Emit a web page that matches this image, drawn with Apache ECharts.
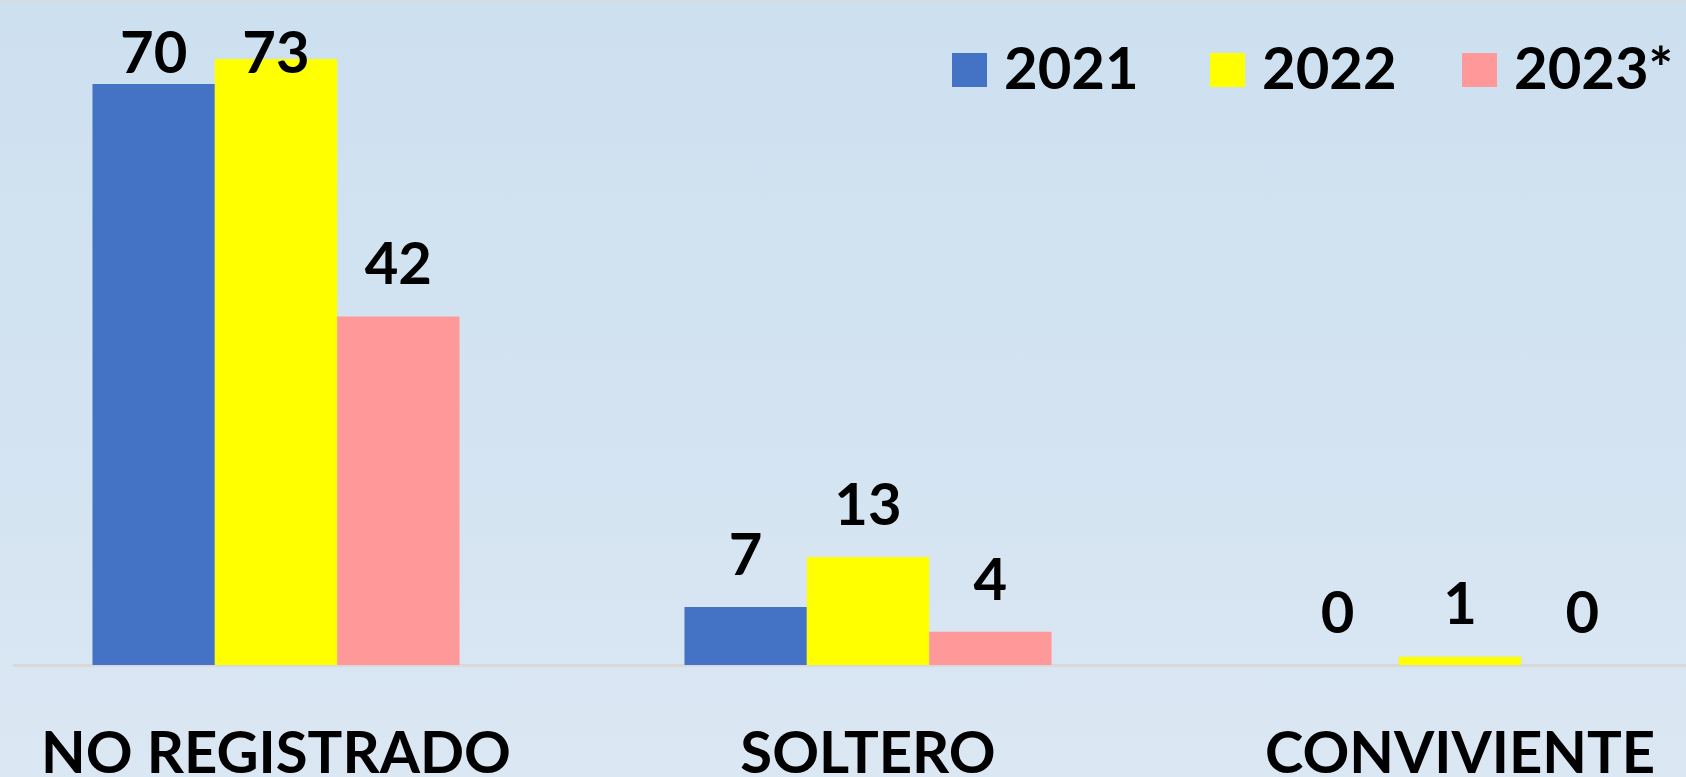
<!DOCTYPE html>
<html>
<head>
<meta charset="utf-8">
<script src="https://cdn.jsdelivr.net/npm/echarts@6/dist/echarts.min.js"></script>
<style>
  html, body { margin: 0; padding: 0; }
  #chart {
    width: 1686px; height: 777px;
    background: linear-gradient(to bottom, #d3dde6 0px, #d3dde6 3px, #cde0ef 4px, #d3e3f1 380px, #dbe7f3 777px);
  }
</style>
</head>
<body>
<div id="chart"></div>
<script>
const categories = ['NO REGISTRADO', 'SOLTERO', 'CONVIVIENTE'];
const seriesNames = ['2021', '2022', '2023*'];
const values2021 = [70, 7, 0];
const values2022 = [73, 13, 1];
const values2023 = [42, 4, 0];

const seriesValues = [values2021, values2022, values2023];
const colors = ['#4472C4', '#FFFF00', '#FF9999'];
const FONT = 'Lato';

// label nudges for the two labels that overlap the top of the chart in the original
const labelNudge = { '0|0': 21, '1|0': 46 };

const chart = echarts.init(document.getElementById('chart'));

const series = seriesNames.map((name, si) => ({
  name: name,
  type: 'bar',
  xAxisIndex: 0,
  yAxisIndex: 0,
  barGap: '0%',
  barCategoryGap: '38%',
  itemStyle: { color: colors[si] },
  data: seriesValues[si].map((v, ci) => {
    const d = { value: v };
    const n = labelNudge[si + '|' + ci];
    if (n) d.label = { offset: [0, n] };
    return d;
  }),
  label: {
    show: true,
    position: 'top',
    distance: 22,
    color: '#000',
    fontFamily: FONT,
    fontWeight: 'bold',
    fontSize: 58,
    lineHeight: 58
  }
}));

series.push({
  type: 'bar', xAxisIndex: 1, yAxisIndex: 1, data: [], silent: true
});

const legendLefts = [952, 1210, 1462];
const legends = seriesNames.map((name, i) => ({
  data: [name],
  left: legendLefts[i],
  top: 41,
  padding: 0,
  itemWidth: 35,
  itemHeight: 34,
  icon: 'rect',
  selectedMode: false,
  textStyle: {
    color: '#000',
    fontFamily: FONT,
    fontWeight: 'bold',
    fontSize: 58,
    lineHeight: 40,
    padding: [0, 0, 0, 12]
  }
}));

chart.setOption({
  animation: false,
  backgroundColor: 'transparent',
  legend: legends,
  grid: [
    { left: -20, right: -70, top: 1, bottom: 112, outerBoundsMode: 'none', containLabel: false },
    { left: 14, right: 0, top: 1, bottom: 112, outerBoundsMode: 'none', containLabel: false }
  ],
  xAxis: [
    {
      type: 'category',
      gridIndex: 0,
      data: categories,
      axisLine: { show: false },
      axisTick: { show: false },
      axisLabel: {
        margin: 60,
        color: '#000',
        fontFamily: FONT,
        fontWeight: 'bold',
        fontSize: 58,
        lineHeight: 58,
        interval: 0
      }
    },
    {
      type: 'category',
      gridIndex: 1,
      data: [''],
      axisLine: { show: true, lineStyle: { color: '#d9d9d9', width: 3 } },
      axisTick: { show: false },
      axisLabel: { show: false }
    }
  ],
  yAxis: [
    {
      type: 'value', gridIndex: 0, min: 0, max: 80,
      show: false, splitLine: { show: false }
    },
    {
      type: 'value', gridIndex: 1, min: 0, max: 80,
      show: false, splitLine: { show: false }
    }
  ],
  series: series
});
</script>
</body>
</html>
